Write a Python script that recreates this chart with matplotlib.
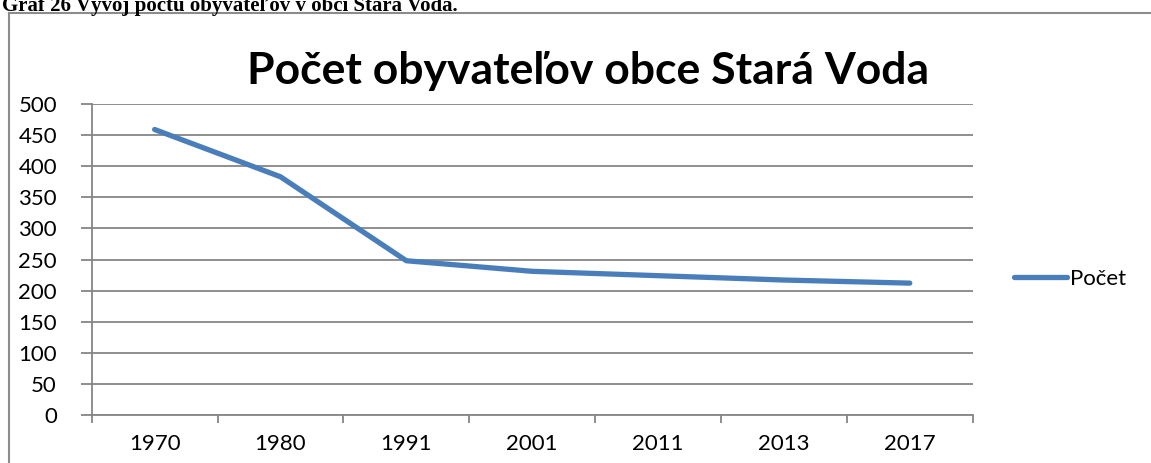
import matplotlib.pyplot as plt
from matplotlib.lines import Line2D

# data
years = ['1970', '1980', '1991', '2001', '2011', '2013', '2017']
pocet = [459, 383, 248, 231, 224, 217, 212]
y_ticks = list(range(0, 501, 50))

W, H = 1151, 463
fig = plt.figure(figsize=(W / 100, H / 100), dpi=100)

grid_col = '#868686'
line_col = '#4A7EBB'

# frame of the chart object (cut off at right and bottom)
fig.add_artist(Line2D([8.5 / W, 8.5 / W], [0, 1 - 12.5 / H], color='#8c8c8c', lw=1.5))
fig.add_artist(Line2D([8.5 / W, 1], [1 - 12.5 / H, 1 - 12.5 / H], color='#8c8c8c', lw=1.5))

# caption above the chart, partly cut off by the crop
fig.text(2 / W, 1 - 11 / H, 'Graf 26 Vývoj počtu obyvateľov v obci Stará Voda.',
         family='Liberation Serif', fontweight='bold', fontsize=15,
         ha='left', va='baseline')

ax = fig.add_axes([91.7 / W, (H - 415) / H, 881 / W, 311 / H])
x = list(range(len(years)))
ax.plot(x, pocet, color=line_col, lw=3.8, solid_capstyle='round',
        solid_joinstyle='round', label='Počet')

ax.set_xlim(-0.5, len(years) - 0.5)
ax.set_ylim(0, 500)
ax.set_yticks(y_ticks)
ax.set_xticks(x)
ax.set_xticklabels(years)
ax.set_xticks([i - 0.5 for i in range(len(years) + 1)], minor=True)

ax.grid(axis='y', color=grid_col, lw=1.3)
ax.set_axisbelow(True)
for s in ['top', 'right']:
    ax.spines[s].set_visible(False)
for s in ['left', 'bottom']:
    ax.spines[s].set_color(grid_col)
    ax.spines[s].set_linewidth(1.3)

ax.tick_params(axis='y', length=8, width=1.3, color=grid_col, pad=17,
               labelsize=16)
ax.tick_params(axis='x', which='major', length=0, pad=14, labelsize=16)
ax.tick_params(axis='x', which='minor', length=6, width=1.3, color=grid_col)
for lab in ax.get_xticklabels() + ax.get_yticklabels():
    lab.set_family('Lato')

fig.text(588 / W, 1 - 71 / H, 'Počet obyvateľov obce Stará Voda',
         family='Lato', fontweight='bold', fontsize=32, ha='center', va='center')

ax.legend(loc='center left', bbox_to_anchor=(994 / W, 1 - 279 / H),
          bbox_transform=fig.transFigure, frameon=False, handlelength=2.4,
          handletextpad=0.1, prop={'family': 'Lato', 'size': 16})

fig.savefig('out.png', dpi=100)
